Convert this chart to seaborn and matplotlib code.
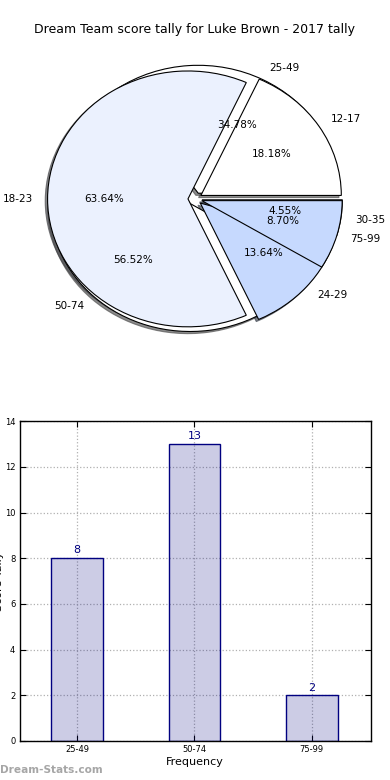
import matplotlib
matplotlib.use("Agg")
import matplotlib.pyplot as plt
import matplotlib.patches as mpatches
import seaborn as sns
import pandas as pd

title = "Dream Team score tally for Luke Brown - 2017 tally"

# finer score ranges (first pie)
small_ranges = ["12-17", "18-23", "24-29", "30-35"]
small_counts = [4, 14, 3, 1]
small_colors = ["#ffffff", "#ebf1fe", "#c6d9fe", "#c6d9fe"]

# wide score ranges (second pie + bars)
wide_ranges = ["25-49", "50-74", "75-99"]
wide_counts = [8, 13, 2]
wide_colors = ["#ffffff", "#ffffff", "#c6d9fe"]

sns.set_style("white")
plt.rcParams['font.family'] = ['DejaVu Sans']
plt.rcParams['text.color'] = 'black'
plt.rcParams['axes.labelcolor'] = 'black'
plt.rcParams['xtick.color'] = 'black'
plt.rcParams['ytick.color'] = 'black'

fig = plt.figure(figsize=(3.9, 7.8), dpi=100)
ax_pie = fig.add_axes([0.05, 0.54, 0.9, 0.41])
ax_bar = fig.add_axes([0.05, 0.05, 0.9, 0.41])

# pies - both drawn on the same axes, stretched (no equal aspect)
wp = dict(edgecolor="black", linewidth=0.8)
tp = dict(fontsize=7.5, color="black")
shad = dict(ox=-0.012, oy=-0.012, alpha=0.65)
wide_w, _, _ = ax_pie.pie(wide_counts, labels=wide_ranges, colors=wide_colors,
                          explode=[0.05] * len(wide_counts), autopct="%1.2f%%",
                          shadow=shad, wedgeprops=wp, textprops=tp)
small_w, _, _ = ax_pie.pie(small_counts, labels=small_ranges, colors=small_colors,
                           explode=[0.05] * len(small_counts), autopct="%1.2f%%",
                           shadow=shad, wedgeprops=wp, textprops=tp)
# shadows at the very back, then the wide pie's white wedges, then the small pie
for p in ax_pie.patches:
    if isinstance(p, mpatches.Shadow):
        p.set_zorder(0.9)
for w in wide_w[:2]:
    w.set_zorder(0.95)
wide_w[2].set_zorder(1.5)

ax_pie.set_aspect("auto")
ax_pie.set_xlim(-1.25, 1.25)
ax_pie.set_ylim(-1.25, 1.25)
ax_pie.set_title(title, fontsize=9, pad=4, color="black")

# bars
df = pd.DataFrame({"range": wide_ranges, "count": wide_counts})
sns.barplot(data=df, x="range", y="count", ax=ax_bar, width=0.44,
            color="navy", edgecolor="navy", linewidth=1, saturation=1)
for p in ax_bar.patches:
    p.set_facecolor((0, 0, 0.5, 0.2))
ax_bar.bar_label(ax_bar.containers[0], color="navy", fontsize=8, padding=2)

ax_bar.set_xlim(-0.49, 2.5)
ax_bar.set_ylim(0, 14)
ax_bar.set_yticks(range(0, 15, 2))
ax_bar.grid(True, linestyle=":", color="#b0b0b0", linewidth=0.9)
ax_bar.tick_params(direction="in", top=True, right=True, bottom=True, left=True,
                   length=4, width=0.8, labelsize=6, pad=3)
for s in ax_bar.spines.values():
    s.set_color("black")
    s.set_linewidth(1)
ax_bar.set_xlabel("Frequency", fontsize=8, labelpad=2)
ax_bar.set_ylabel("Score Tally", fontsize=8)
ax_bar.yaxis.set_label_coords(-0.044, 0.5)

fig.text(0.0, 0.006, "Dream-Stats.com", color="#a6a6a6", fontsize=7.6,
         fontweight="bold", ha="left", va="bottom")

fig.savefig("out.png", dpi=100)
plt.close()
